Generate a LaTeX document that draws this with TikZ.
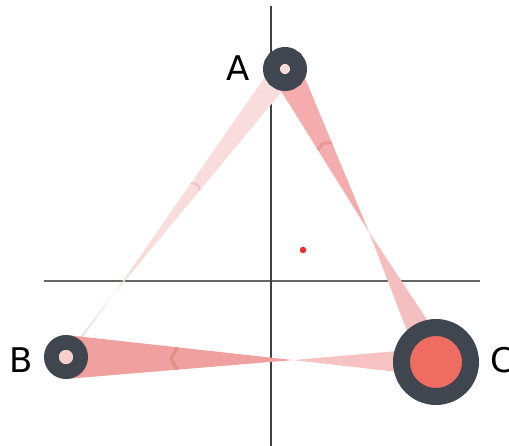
\documentclass[tikz,border=0pt]{standalone}
\usepackage{fontspec}
\setmainfont{DejaVu Sans}
\usetikzlibrary{calc, positioning}

\definecolor{ring}{HTML}{40464F}
\definecolor{innerA}{HTML}{FBDAD7}
\definecolor{innerB}{HTML}{F8CFCB}
\definecolor{innerC}{HTML}{EF6C61}
\definecolor{dotred}{HTML}{E8302A}
\definecolor{bandBC}{HTML}{F0A09E}
\definecolor{bandCB}{HTML}{F6C3C2}
\definecolor{bandAC}{HTML}{F4ACAC}
\definecolor{bandCA}{HTML}{F6BFBF}
\definecolor{bandAB}{HTML}{F9DCDC}
\definecolor{bandBA}{HTML}{F4DCDC}
\definecolor{chevBC}{HTML}{E48E8C}
\definecolor{chevAC}{HTML}{E99696}
\definecolor{chevAB}{HTML}{EBC8C8}

\begin{document}
\begin{tikzpicture}[
x=1pt, y=-1pt,
ringnode/.style={circle, draw=ring, inner sep=0pt},
lbl/.style={font=\fontsize{34}{34}\selectfont, inner sep=0pt},
axis/.style={line width=1.1pt},
chevron/.style={line width=3pt, line join=miter}
]
\useasboundingbox (0,0) rectangle (509,446);

% axes
\coordinate (ytop) at (271,6);
\coordinate (ybot) at (271,446);
\coordinate (xleft) at (44,281);
\coordinate (xright) at (480,281);
\draw[axis, draw=black!60] (xleft) -- (xright);
\draw[axis, draw=black!75] (ytop) -- (ybot);

% node centres
\coordinate (A) at (285,69);
\coordinate (B) at (66,357);
\coordinate (C) at (436,362);

% waists of the bands
\coordinate (pAB) at ($(A)!0.78!(B)$);
\coordinate (pAC) at ($(A)!0.556!(C)$);
\coordinate (pBC) at ($(B)!0.6135!(C)$);

% chevron points
\coordinate (kAB0) at ($(A)!0.40!(B)$);
\coordinate (kAB1) at ($(A)!0.415!(B)$);
\coordinate (kAC0) at ($(A)!0.253!(C)$);
\coordinate (kAC1) at ($(A)!0.27!(C)$);
\coordinate (kBC0) at ($(B)!0.284!(C)$);
\coordinate (kBC1) at ($(B)!0.305!(C)$);

% A -- B
\fill[bandAB, path picture={\draw[chevron, line width=2pt, draw=chevAB]
  ($(kAB1)!10pt!90:(B)$) -- (kAB0) -- ($(kAB1)!10pt!-90:(B)$);}]
  ($(A)!12pt!90:(B)$) -- (pAB) -- ($(A)!12pt!-90:(B)$) -- cycle;
\fill[bandBA] ($(B)!1.5pt!90:(A)$) -- (pAB) -- ($(B)!1.5pt!-90:(A)$) -- cycle;

% A -- C
\fill[bandAC, path picture={\draw[chevron, draw=chevAC]
  ($(kAC1)!12pt!90:(C)$) -- (kAC0) -- ($(kAC1)!12pt!-90:(C)$);}]
  ($(A)!15pt!90:(C)$) -- (pAC) -- ($(A)!15pt!-90:(C)$) -- cycle;
\fill[bandCA] ($(C)!16pt!90:(A)$) -- (pAC) -- ($(C)!16pt!-90:(A)$) -- cycle;

% B -- C
\fill[bandBC, path picture={\draw[chevron, draw=chevBC]
  ($(kBC1)!14pt!90:(C)$) -- (kBC0) -- ($(kBC1)!14pt!-90:(C)$);}]
  ($(B)!22pt!90:(C)$) -- (pBC) -- ($(B)!22pt!-90:(C)$) -- cycle;
\fill[bandCB] ($(C)!14.3pt!90:(B)$) -- (pBC) -- ($(C)!14.3pt!-90:(B)$) -- cycle;

% nodes
\node[ringnode, fill=innerA, minimum size=27.3pt, line width=16.7pt] (nodeA) at (A) {};
\node[ringnode, fill=innerB, minimum size=29.3pt, line width=14.7pt] (nodeB) at (B) {};
\node[ringnode, fill=innerC, minimum size=69pt, line width=17pt] (nodeC) at (C) {};

\node[lbl, left=13pt of nodeA, yshift=1pt] (labelA) {A};
\node[lbl, left=11pt of nodeB, yshift=-3pt] (labelB) {B};
\node[lbl, right=11pt of nodeC, yshift=1.5pt] (labelC) {C};

% mean point
\node[circle, fill=dotred, minimum size=6.5pt, inner sep=0pt] (mean) at (303,250) {};

\end{tikzpicture}
\end{document}
